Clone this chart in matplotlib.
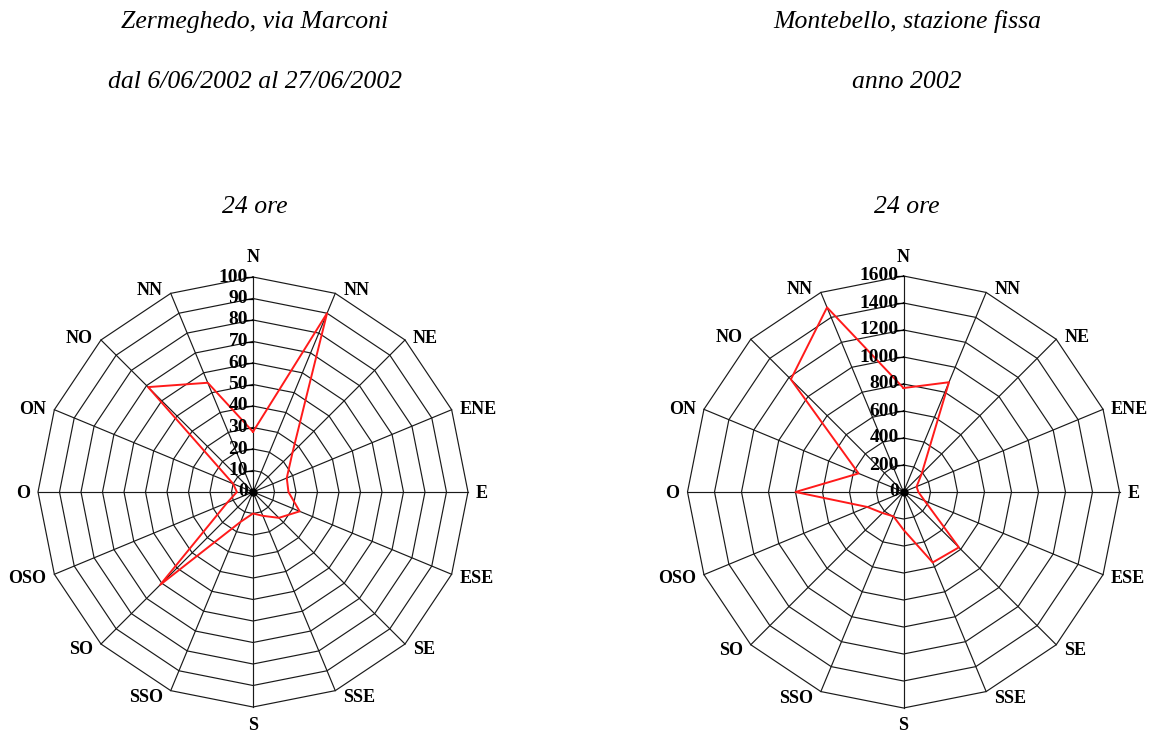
import numpy as np
import matplotlib
matplotlib.use("Agg")
import matplotlib.pyplot as plt

# wind directions, clockwise from north (labels as printed, truncated)
directions = ['N', 'NN', 'NE', 'ENE', 'E', 'ESE', 'SE', 'SSE',
              'S', 'SSO', 'SO', 'OSO', 'O', 'ON', 'NO', 'NN']
zermeghedo = [28, 90, 26, 17, 16.5, 23.5, 17, 12, 10, 15, 61, 13, 7.5, 10, 69, 55]
montebello = [770, 880, 190, 105, 110, 170, 580, 565, 280, 195, 220, 290, 800, 360, 1180, 1480]
zerm_ticks = list(range(0, 101, 10))
mont_ticks = list(range(0, 1601, 200))

W, H = 1151, 733
fig = plt.figure(figsize=(W / 100, H / 100), dpi=100)
fig.patch.set_facecolor('white')

serif = 'Liberation Serif'


def radar(cx, cy, rpx, values, ticks):
    B = 250
    ax = fig.add_axes([(cx - B) / W, (H - cy - B) / H, 2 * B / W, 2 * B / H])
    lim = B / rpx
    ax.set_xlim(-lim, lim)
    ax.set_ylim(-lim, lim)
    ax.axis('off')
    theta = np.arange(len(directions)) * 2 * np.pi / len(directions)
    sx, sy = np.sin(theta), np.cos(theta)
    top = ticks[-1]
    # polygon rings
    for t in ticks[1:]:
        r = t / top
        ax.plot(np.append(sx, sx[0]) * r, np.append(sy, sy[0]) * r,
                color='#1a1a1a', lw=0.85, solid_joinstyle='miter')
    # spokes
    for a, b in zip(sx, sy):
        ax.plot([0, a], [0, b], color='#1a1a1a', lw=0.85)
    ax.plot([0], [0], 'o', color='black', ms=5)
    # value ticks and labels on the N axis
    for t in ticks:
        r = t / top
        ax.plot([-0.035, 0], [r, r], color='black', lw=0.9)
        ax.annotate(str(t), (0, r), xytext=(-5, 0), textcoords='offset pixels',
                    ha='right', va='center', fontsize=14, fontweight='bold',
                    family=serif, annotation_clip=False)
    # direction labels
    for lab, a, b in zip(directions, sx, sy):
        if abs(a) < 0.1:
            dx, dy, ha = 0, (19 if b > 0 else -18), 'center'
        else:
            dx, dy, ha = (8 if a > 0 else -8), 5 * b - 2, ('left' if a > 0 else 'right')
        ax.annotate(lab, (a, b), xytext=(dx, dy), textcoords='offset pixels',
                    ha=ha, va='center', fontsize=13, fontweight='bold',
                    family=serif, annotation_clip=False)
    # data polygon
    v = np.array(values) / top
    ax.plot(np.append(sx * v, sx[0] * v[0]), np.append(sy * v, sy[0] * v[0]),
            color='#ff1a1a', lw=1.4)
    return ax


radar(253, 492, 215, zermeghedo, zerm_ticks)
radar(903.5, 492, 216, montebello, mont_ticks)

titles = [
    (255, ['Zermeghedo, via Marconi', 'dal 6/06/2002 al 27/06/2002', '24 ore']),
    (907, ['Montebello, stazione fissa', 'anno 2002', '24 ore']),
]
baselines = [28, 88, 213]
for x, lines in titles:
    for yb, txt in zip(baselines, lines):
        fig.text(x / W, 1 - yb / H, txt, ha='center', va='baseline',
                 fontsize=18.5, style='italic', family=serif)

fig.savefig('out.png', dpi=100)
